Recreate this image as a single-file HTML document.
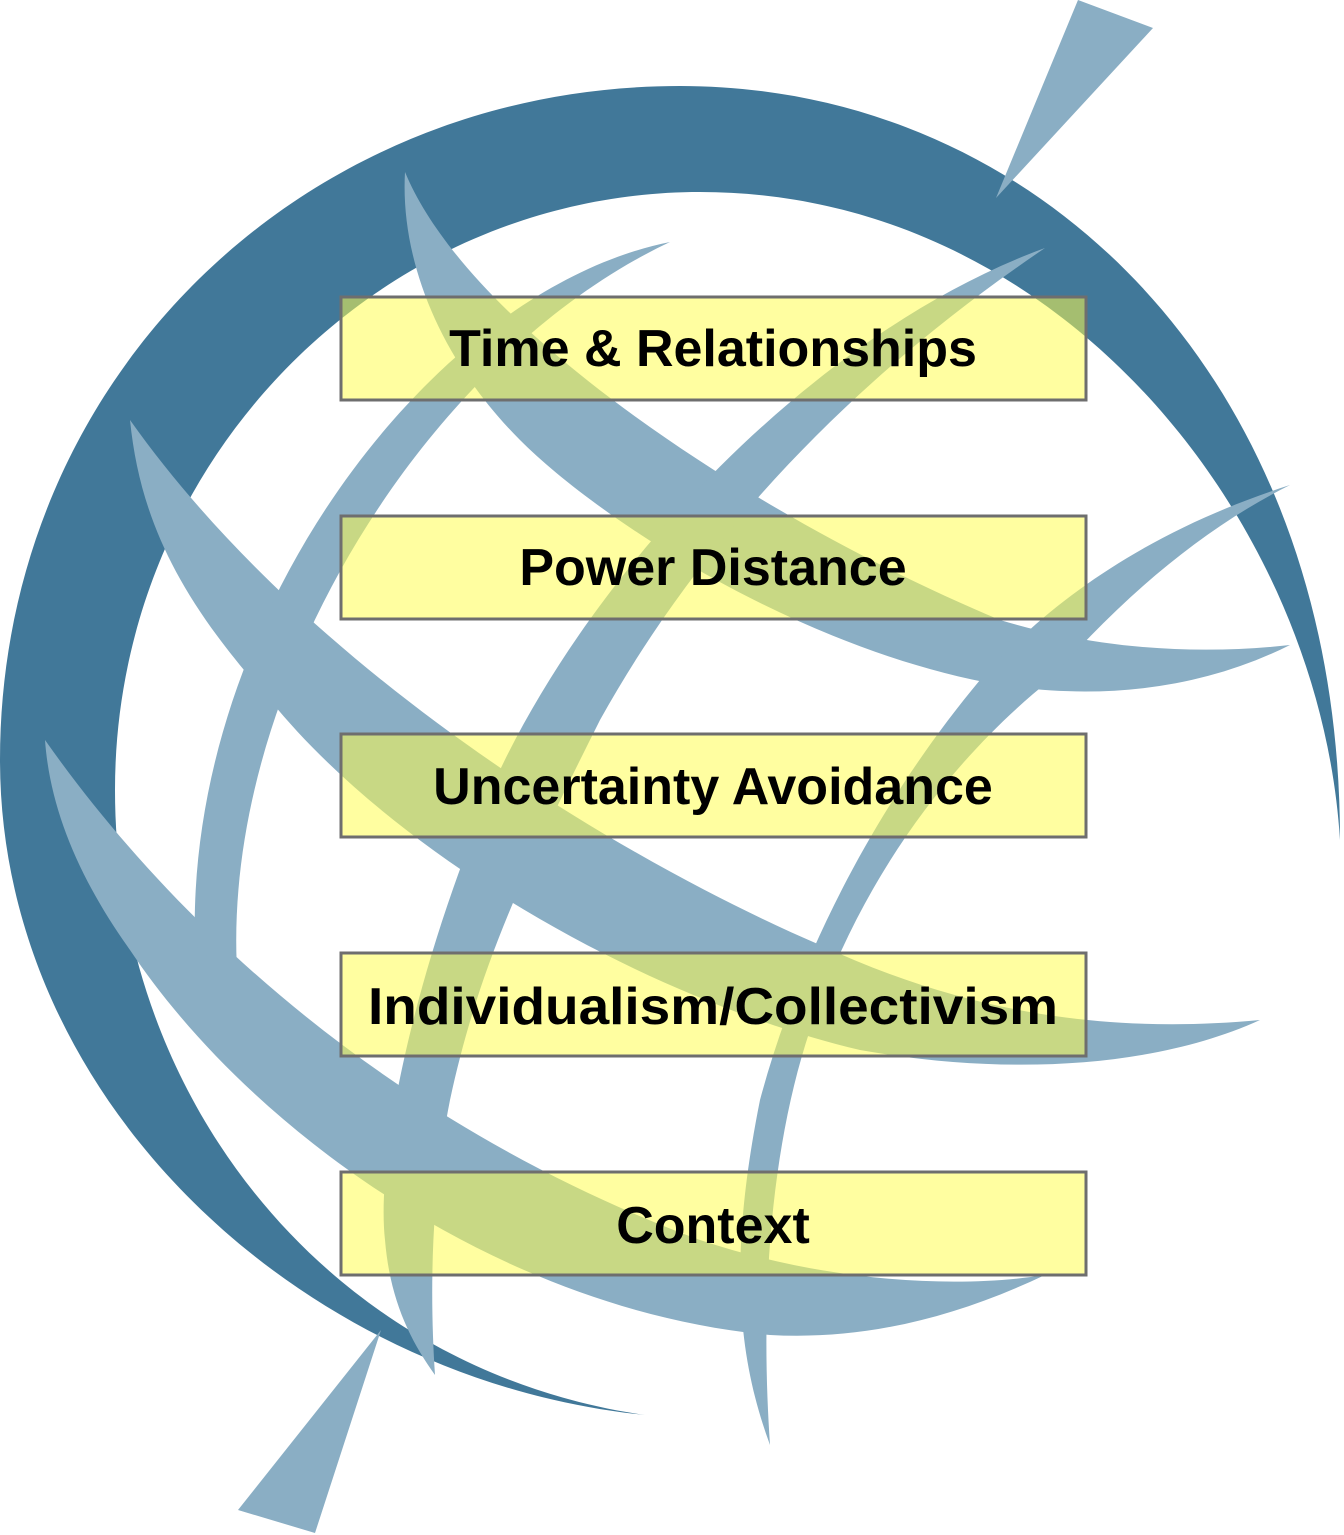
<!DOCTYPE html>
<html><head><meta charset="utf-8"><style>
html,body{margin:0;padding:0;background:#fff;}
svg{display:block;}
text{font-family:"Liberation Sans",sans-serif;font-weight:bold;font-size:52px;fill:#000;}
</style></head><body>
<svg width="1344" height="1535" viewBox="0 0 1344 1535" xmlns="http://www.w3.org/2000/svg">
<path fill="#417899" d="M645,1415 C300,1380 0,1100 0,760 C0,380 300,86 680,86 C1040,86 1340,380 1340,840 C1320,520 1060,192 700,192 C380,192 115,460 115,790 C115,1100 330,1370 645,1415 Z"/>
<g fill="#8aaec4">
<polygon points="1078,0 1153,28 996,198"/>
<polygon points="381,1330 238,1510 315,1533"/>
<path d="M405,172 C470,330 760,520 1000,620 C1100,650 1200,655 1290,645 C1200,690 1100,700 1000,685 C800,650 600,520 520,440 C440,360 400,260 405,172 Z"/>
<path d="M130,420 C300,660 600,850 820,945 C960,1010 1100,1035 1260,1020 C1150,1070 1000,1075 860,1050 C650,1000 400,860 270,700 C180,600 140,520 130,420 Z"/>
<path d="M45,740 C200,960 430,1140 700,1240 C820,1280 950,1290 1045,1275 C950,1320 860,1340 770,1335 C500,1310 250,1130 130,950 C80,880 50,810 45,740 Z"/>
<path d="M670,242 C430,290 185,620 195,945 L238,985 C215,700 420,360 670,242 Z"/>
<path d="M1045,248 C820,330 600,560 500,770 C420,950 375,1150 385,1240 C390,1300 410,1340 435,1375 C430,1300 430,1200 450,1100 C480,960 530,860 600,720 C700,540 850,380 1045,248 Z"/>
<path d="M1290,485 C1150,530 1050,600 980,680 C880,800 800,950 760,1100 C730,1250 735,1350 770,1445 C760,1300 770,1150 810,1030 C860,880 950,760 1050,680 C1120,600 1200,530 1290,485 Z"/>
</g>
<g fill="rgba(255,253,75,0.53)" stroke="#6e6e6e" stroke-width="3">
<rect x="341" y="297" width="745" height="103"/>
<rect x="341" y="516" width="745" height="103"/>
<rect x="341" y="734" width="745" height="103"/>
<rect x="341" y="953" width="745" height="103"/>
<rect x="341" y="1172" width="745" height="103"/>
</g>
<g text-anchor="middle">
<text x="713" y="366">Time &amp; Relationships</text>
<text x="713" y="585">Power Distance</text>
<text x="713" y="804">Uncertainty Avoidance</text>
<text x="713" y="1024" textLength="690" lengthAdjust="spacingAndGlyphs">Individualism/Collectivism</text>
<text x="713" y="1243">Context</text>
</g>
</svg>
</body></html>
